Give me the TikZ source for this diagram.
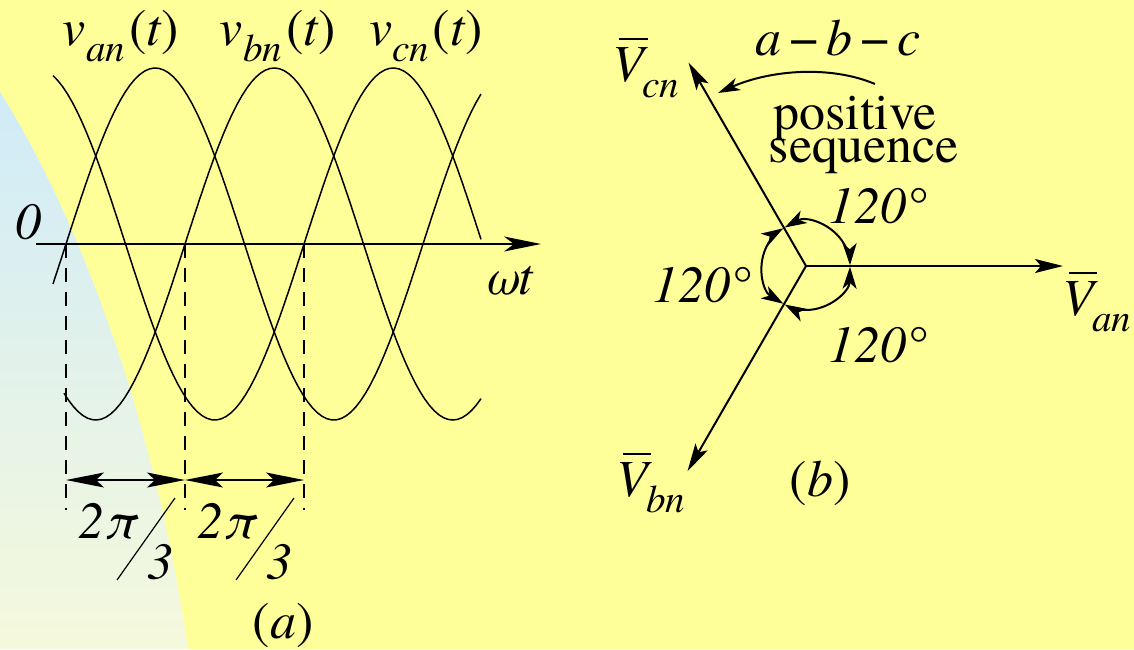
\documentclass[tikz,border=0pt]{standalone}
\usepackage{fontspec}
\setmainfont{texgyretermes}[Extension=.otf,UprightFont=*-regular,ItalicFont=*-italic,BoldFont=*-bold,BoldItalicFont=*-bolditalic]
\usepackage{tikz}
\usetikzlibrary{arrows.meta,calc}
\definecolor{bgyellow}{RGB}{255,255,153}
\definecolor{shadetop}{RGB}{208,235,248}
\definecolor{shadebot}{RGB}{245,249,220}

\newcommand{\lowsub}[1]{\raisebox{-8pt}{\fontsize{19.5}{20}\selectfont\itshape #1}}
\newcommand{\wavelabel}[1]{\textit{v}\lowsub{#1}\kern2pt(\textit{t})}
\newcommand{\phasorlabel}[1]{\makebox[0pt][l]{\hspace{0.12em}\rule[0.8em]{0.55em}{0.9pt}}\textit{V}\kern-3pt\lowsub{#1}}

\begin{document}
\begin{tikzpicture}[x=0.5pt,y=-0.5pt,
  every node/.style={inner sep=0pt,font=\fontsize{26}{28}\selectfont},
  wave/.style={line width=0.75pt},
  axisline/.style={line width=0.75pt,-{Stealth[length=18.5pt,width=7.5pt,inset=5pt]}},
  guide/.style={line width=0.7pt,dash pattern=on 7pt off 5pt},
  dimline/.style={line width=0.6pt,{Stealth[length=19pt,width=7.5pt,inset=4pt]}-{Stealth[length=19pt,width=7.5pt,inset=4pt]}},
  slash/.style={line width=0.6pt},
  phasor/.style={line width=1pt,-{Stealth[length=14pt,width=7pt,inset=3pt]}},
  anglearc/.style={line width=1pt,{Stealth[length=11pt,width=7pt,inset=3pt]}-{Stealth[length=11pt,width=7pt,inset=3pt]}},
  seqarrow/.style={line width=1pt,-{Stealth[length=11pt,width=6.5pt,inset=3pt]}}]

  \fill[bgyellow] (0,0) rectangle (1134,649);
  \useasboundingbox (0,0) rectangle (1134,649);
  \shade[top color=shadetop,bottom color=shadebot]
    (0,92) .. controls (78,215) and (155,420) .. (188,649) -- (0,649) -- cycle;

  % (a) waveforms
  \coordinate (ax0) at (36,244);
  \coordinate (ax1) at (541,244);
  \draw[axisline] (ax0) -- (ax1);
  \draw[wave] plot[domain=53:481,samples=90] (\x,{244-176*sin((\x-66)/357*360)});
  \draw[wave] plot[domain=64:481,samples=90] (\x,{244-176*sin((\x-66)/357*360-120)});
  \draw[wave] plot[domain=53:481,samples=90] (\x,{244-176*sin((\x-66)/357*360+120)});

  \foreach \i/\x in {0/66,1/185,2/304} {
    \coordinate (g\i) at (\x,244);
    \coordinate (gb\i) at (\x,510);
    \coordinate (m\i) at (\x,480);
    \draw[guide] (g\i) -- (gb\i);
  }
  \draw[dimline] (m0) -- (m1);
  \draw[dimline] (m1) -- (m2);

  \node (van) at (121,36) {\wavelabel{an}};
  \node (vbn) at (278,36) {\wavelabel{bn}};
  \node (vcn) at (426,36) {\wavelabel{cn}};
  \node (zero) at (29,222) {\textit{0}};
  \node (wt) at (509,281) {\textit{ωt}};

  \node (tpa) at (109,522) {\textit{2π}};
  \node (tha) at (160,562) {\textit{3}};
  \draw[slash] (175,498) -- (117,580);
  \node (tpb) at (228,522) {\textit{2π}};
  \node (thb) at (279,562) {\textit{3}};
  \draw[slash] (294,498) -- (236,580);
  \node (capa) at (283,626) {(\textit{a})};

  % (b) phasors
  \coordinate (O) at (806,266);
  \coordinate (an) at (1063,266);
  \coordinate (cn) at ($(O)+(-120:235)$);
  \coordinate (bn) at ($(O)+(120:237)$);
  \draw[phasor] (O) -- (an);
  \draw[phasor] (O) -- (cn);
  \draw[phasor] (O) -- (bn);

  \draw[anglearc] ($(O)+(1:44)$) arc[start angle=1,end angle=119,radius=44];
  \draw[anglearc] ($(O)+(121:44)$) arc[start angle=121,end angle=239,radius=44];
  \draw[anglearc] ($(O)+(241:44)$) arc[start angle=241,end angle=359,radius=44];

  \node (lcn) at (646,68) {\phasorlabel{cn}};
  \node (lan) at (1097,302) {\phasorlabel{an}};
  \node (lbn) at (651,483) {\phasorlabel{bn}};

  \node (dga) at (878,206) {\textit{120°}};
  \node (dgb) at (702,285) {\textit{120°}};
  \node (dgc) at (878,345) {\textit{120°}};

  \node (abc) at (838,38) {\textit{a}\kern4pt−\kern4pt\textit{b}\kern4pt−\kern4pt\textit{c}};
  \coordinate (sq0) at (875,84);
  \coordinate (sq1) at (718,93);
  \draw[seqarrow] (sq0) .. controls (830,65) and (770,70) .. (sq1);
  \node[anchor=base] (pos) at (855,129) {positive};
  \node[anchor=base] (seq) at (864,162) {sequence};
  \node (capb) at (820,483) {(\textit{b})};
\end{tikzpicture}
\end{document}
